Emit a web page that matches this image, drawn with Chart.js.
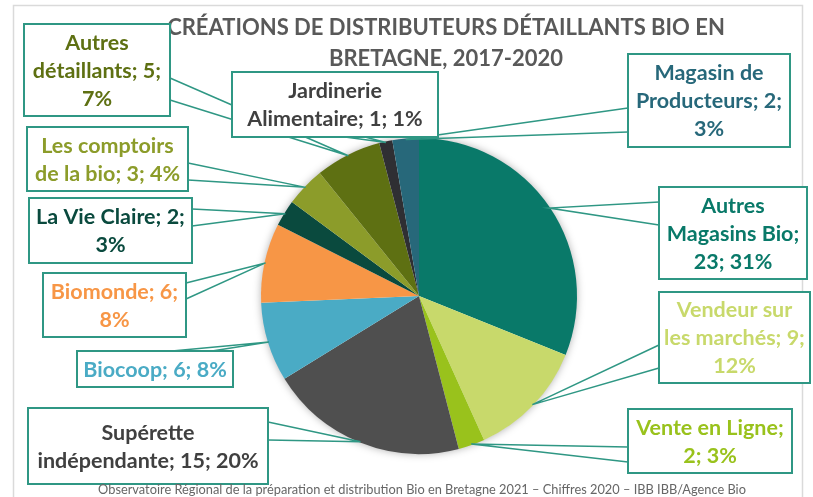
<!DOCTYPE html>
<html lang="fr">
<head>
<meta charset="utf-8">
<script src="https://cdn.jsdelivr.net/npm/chart.js@4"></script>
<style>
  html, body { margin: 0; padding: 0; background: #fff; }
  canvas { display: block; }
</style>
</head>
<body>
<canvas id="pieChart" width="813" height="497"></canvas>
<script>
const categories = ['Autres Magasins Bio', 'Vendeur sur les marchés', 'Vente en Ligne', 'Supérette indépendante',
    'Biocoop', 'Biomonde', 'La Vie Claire', 'Les comptoirs de la bio', 'Autres détaillants',
    'Jardinerie Alimentaire', 'Magasin de Producteurs'];
const counts = [23, 9, 2, 15, 6, 6, 2, 3, 5, 1, 2];
const percents = [31, 12, 3, 20, 8, 8, 3, 4, 7, 1, 3];
const sliceColors = ['#097969', '#c8d96b', '#99c21c', '#4f4f4f', '#4aabc5', '#f79646',
    '#0a4a3e', '#8c9c2a', '#5e7012', '#2f2f33', '#27687a'];
const titleLines = ['CRÉATIONS DE DISTRIBUTEURS DÉTAILLANTS BIO EN', 'BRETAGNE, 2017-2020'];
const sourceText = 'Observatoire Régional de la préparation et distribution Bio en Bretagne 2021 – Chiffres 2020 – IBB IBB/Agence Bio';

// callout boxes: box rect, words per line, text colour, the two points where the leader leaves the box
const callouts = [
    { box: [659, 187, 148, 92], words: [1, 2, 2], color: '#097969', base: [[659, 202], [659, 225]] },
    { box: [659, 292, 151, 91], words: [2, 3, 1], color: '#c8d96b', base: [[659, 345], [659, 368]] },
    { box: [628, 409, 164, 64], words: [3, 2], color: '#99c21c', base: [[628, 447], [628, 462]] },
    { box: [28, 408, 240, 76], words: [1, 3], color: '#404040', base: [[268, 422], [268, 440]] },
    { box: [77, 351, 156, 36], words: [3], color: '#4aabc5', base: [[172, 351], [212, 351]] },
    { box: [43, 273, 143, 64], words: [2, 1], color: '#f79646', base: [[186, 283], [186, 299]] },
    { box: [29, 198, 163, 65], words: [4, 1], color: '#0a4a3e', base: [[192, 209], [192, 226]] },
    { box: [27, 127, 161, 64], words: [2, 5], color: '#8c9c2a', base: [[188, 163], [188, 180]] },
    { box: [24, 24, 146, 92], words: [1, 2, 1], color: '#5e7012', base: [[170, 78], [170, 100]] },
    { box: [232, 72, 206, 65], words: [1, 3], color: '#404040', base: [[345, 137], [365, 137]] },
    { box: [628, 54, 162, 93], words: [2, 2, 1], color: '#27687a', base: [[628, 108], [628, 132]] }
];

const LINE_COLOR = '#2f9784';
const FONT = 'Lato, "Open Sans", sans-serif';

function labelLines(i) {
    const words = `${categories[i]}; ${counts[i]}; ${percents[i]}%`.split(' ');
    const lines = [];
    let k = 0;
    callouts[i].words.forEach((n) => {
        lines.push(words.slice(k, k + n).join(' '));
        k += n;
    });
    return lines;
}

const shadowPlugin = {
    id: 'pieShadow',
    beforeDatasetsDraw(chart) {
        const arc = chart.getDatasetMeta(0).data[0];
        if (!arc) return;
        const { x, y, outerRadius } = arc.getProps(['x', 'y', 'outerRadius'], true);
        const ctx = chart.ctx;
        ctx.save();
        ctx.shadowColor = 'rgba(0,0,0,0.35)';
        ctx.shadowBlur = 9;
        ctx.fillStyle = '#ffffff';
        ctx.beginPath();
        ctx.arc(x, y, outerRadius - 0.5, 0, Math.PI * 2);
        ctx.fill();
        ctx.restore();
    }
};

const decorPlugin = {
    id: 'decor',
    beforeDraw(chart) {
        const ctx = chart.ctx;
        ctx.save();
        ctx.strokeStyle = '#dadada';
        ctx.lineWidth = 1.5;
        ctx.strokeRect(13.5, 5.5, 789, 520);
        ctx.restore();
    },
    afterDraw(chart) {
        const ctx = chart.ctx;
        const meta = chart.getDatasetMeta(0);
        ctx.save();

        // title
        ctx.fillStyle = '#595959';
        ctx.font = `bold 22px ${FONT}`;
        ctx.textAlign = 'center';
        ctx.textBaseline = 'middle';
        ctx.fillText(titleLines[0], 446, 28);
        ctx.fillText(titleLines[1], 446, 59);

        // leader lines
        ctx.strokeStyle = LINE_COLOR;
        ctx.lineWidth = 1.5;
        meta.data.forEach((arc, i) => {
            const p = arc.getProps(['x', 'y', 'startAngle', 'endAngle', 'outerRadius'], true);
            const mid = (p.startAngle + p.endAngle) / 2;
            const ax = p.x + Math.cos(mid) * (p.outerRadius - 1);
            const ay = p.y + Math.sin(mid) * (p.outerRadius - 1);
            const b = callouts[i].base;
            ctx.beginPath();
            ctx.moveTo(b[0][0], b[0][1]);
            ctx.lineTo(ax, ay);
            ctx.lineTo(b[1][0], b[1][1]);
            ctx.stroke();
        });

        // boxes
        ctx.font = `bold 21.5px ${FONT}`;
        callouts.forEach((c, i) => {
            const [bx, by, bw, bh] = c.box;
            ctx.fillStyle = '#ffffff';
            ctx.fillRect(bx, by, bw, bh);
            ctx.strokeStyle = LINE_COLOR;
            ctx.lineWidth = 2;
            ctx.strokeRect(bx, by, bw, bh);
            const lines = labelLines(i);
            const lh = 28;
            const top = by + bh / 2 - (lines.length - 1) * lh / 2;
            ctx.fillStyle = c.color;
            lines.forEach((t, j) => ctx.fillText(t, bx + bw / 2, top + j * lh + 1));
        });

        // source
        ctx.fillStyle = '#666666';
        ctx.font = `12.8px ${FONT}`;
        ctx.fillText(sourceText, 422, 490);
        ctx.restore();
    }
};

new Chart(document.getElementById('pieChart'), {
    type: 'pie',
    data: {
        labels: categories,
        datasets: [{
            data: counts,
            backgroundColor: sliceColors,
            borderWidth: 0
        }]
    },
    options: {
        responsive: false,
        animation: false,
        layout: { padding: { top: 138, bottom: 43, left: 261, right: 236 } },
        plugins: {
            legend: { display: false },
            tooltip: { enabled: false },
            title: { display: false }
        }
    },
    plugins: [decorPlugin, shadowPlugin]
});
</script>
</body>
</html>
